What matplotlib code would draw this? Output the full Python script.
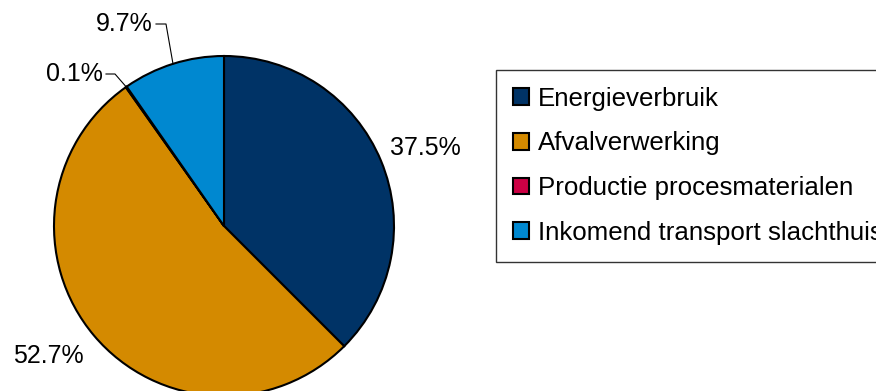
import numpy as np
import matplotlib
matplotlib.use('Agg')
import matplotlib.pyplot as plt

plt.rcParams['font.family'] = ['Liberation Sans', 'DejaVu Sans']

labels = ['Energieverbruik', 'Afvalverwerking', 'Productie procesmaterialen',
          'Inkomend transport slachthuis']
shares = [37.5, 52.7, 0.1, 9.7]
colors = ['#003366', '#D48A00', '#CC0044', '#0088D0']

W, H = 876, 391
fig = plt.figure(figsize=(W / 100, H / 100), dpi=100)
ax = fig.add_axes([0, 0, 1, 1])

# work in pixel units, y measured upward
cx, cy, r = 224, H - 226, 170
wedges, _ = ax.pie(shares, colors=colors, startangle=90, counterclock=False,
                   center=(cx, cy), radius=r,
                   wedgeprops=dict(edgecolor='black', linewidth=1.5))
ax.set_xlim(0, W)
ax.set_ylim(0, H)
ax.set_aspect('equal')
ax.axis('off')

fs = 18

# mid-angle of each slice (degrees from +x axis)
cum = np.cumsum([0] + shares[:-1])
mid = 90 - (cum + np.array(shares) / 2) / 100 * 360

def edge(i):
    a = np.radians(mid[i])
    return cx + r * np.cos(a), cy + r * np.sin(a)

ax.text(390, H - 148, f'{shares[0]}%', fontsize=fs, va='center', ha='left')
ax.text(13, H - 356, f'{shares[1]}%', fontsize=fs, va='center', ha='left')

# small slices get leader lines
ex, ey = edge(2)
ax.text(103, H - 74, f'{shares[2]}%', fontsize=fs, va='center', ha='right')
ax.plot([106, 115, ex], [H - 74, H - 74, ey], color='black', lw=0.8)

ex, ey = edge(3)
ax.text(153, H - 24, f'{shares[3]}%', fontsize=fs, va='center', ha='right')
ax.plot([156, 166, ex], [H - 24, H - 24, ey], color='black', lw=0.8)

# legend box runs past the right edge of the figure
leg = ax.legend(wedges, labels, loc='upper left',
                bbox_to_anchor=(496 / W, 1 - 70 / H),
                bbox_transform=fig.transFigure,
                fontsize=18.6, frameon=True, fancybox=False,
                handlelength=0.62, handleheight=0.62, handletextpad=0.35,
                labelspacing=0.8, borderpad=0.65, borderaxespad=0)
leg.get_frame().set_edgecolor('black')
leg.get_frame().set_linewidth(1.0)

fig.savefig('out.png', dpi=100)
